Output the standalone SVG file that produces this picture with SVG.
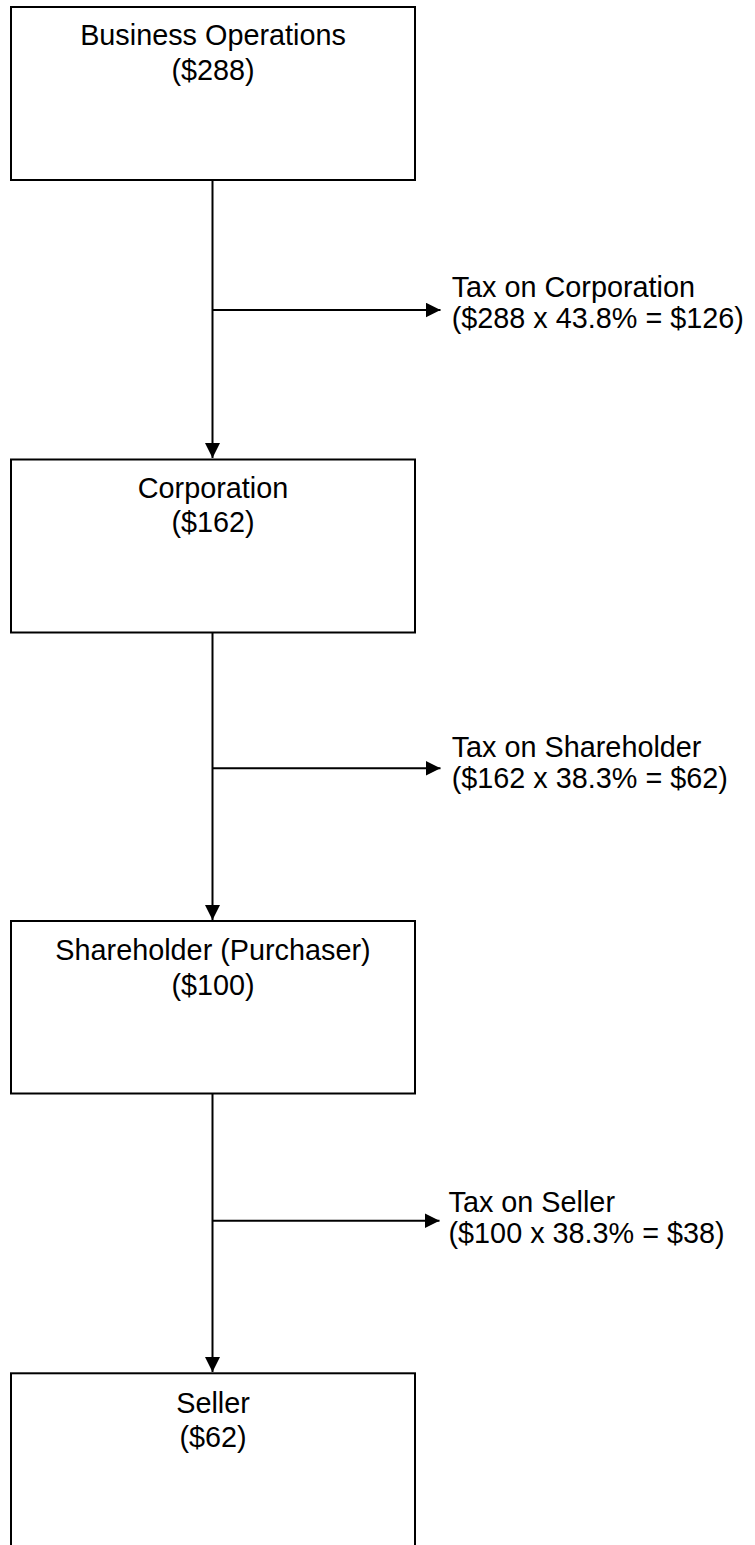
<svg xmlns="http://www.w3.org/2000/svg" width="755" height="1545" viewBox="0 0 755 1545">
<style>
  .box { fill: #ffffff; stroke: #000000; stroke-width: 2; }
  .conn { fill: none; stroke: #000000; stroke-width: 2; }
  .t { font-family: "Liberation Sans", Arial, sans-serif; font-size: 28.8px; fill: #000000; }
  .c { text-anchor: middle; }
</style>
<defs>
  <marker id="arrow" markerUnits="userSpaceOnUse" markerWidth="16" markerHeight="16" refX="15" refY="7.5" orient="auto" viewBox="0 0 16 16">
    <path d="M0,0 L15,7.5 L0,15 Z" fill="#000000"/>
  </marker>
</defs>
<rect width="755" height="1545" fill="#ffffff"/>
<g id="connectors">
  <line class="conn" x1="212.5" y1="180" x2="212.5" y2="458" marker-end="url(#arrow)"/>
  <line class="conn" x1="212.5" y1="310" x2="440.5" y2="310" marker-end="url(#arrow)"/>
  <line class="conn" x1="212.5" y1="632" x2="212.5" y2="920" marker-end="url(#arrow)"/>
  <line class="conn" x1="212.5" y1="768.3" x2="440.5" y2="768.3" marker-end="url(#arrow)"/>
  <line class="conn" x1="212.5" y1="1093" x2="212.5" y2="1372" marker-end="url(#arrow)"/>
  <line class="conn" x1="212.5" y1="1220.7" x2="439.5" y2="1220.7" marker-end="url(#arrow)"/>
</g>
<g id="node-business-operations">
  <rect class="box" x="11" y="7" width="404" height="173"/>
  <text class="t c" x="213" y="45">Business Operations</text>
  <text class="t c" x="213" y="80">($288)</text>
</g>
<g id="node-corporation">
  <rect class="box" x="11" y="459.5" width="404" height="173"/>
  <text class="t c" x="213" y="498.3">Corporation</text>
  <text class="t c" x="213" y="532">($162)</text>
</g>
<g id="node-shareholder">
  <rect class="box" x="11" y="921" width="404" height="172.5"/>
  <text class="t c" x="213" y="960">Shareholder (Purchaser)</text>
  <text class="t c" x="213" y="995">($100)</text>
</g>
<g id="node-seller">
  <rect class="box" x="11" y="1373.3" width="404" height="173"/>
  <text class="t c" x="213" y="1413">Seller</text>
  <text class="t c" x="213" y="1447">($62)</text>
</g>
<g id="label-tax-corporation">
  <text class="t" x="451.7" y="296.7">Tax on Corporation</text>
  <text class="t" x="451.7" y="328.3">($288 x 43.8% = $126)</text>
</g>
<g id="label-tax-shareholder">
  <text class="t" x="451.7" y="756.7">Tax on Shareholder</text>
  <text class="t" x="451.7" y="788">($162 x 38.3% = $62)</text>
</g>
<g id="label-tax-seller">
  <text class="t" x="448.5" y="1211.7">Tax on Seller</text>
  <text class="t" x="448.5" y="1243">($100 x 38.3% = $38)</text>
</g>
</svg>
